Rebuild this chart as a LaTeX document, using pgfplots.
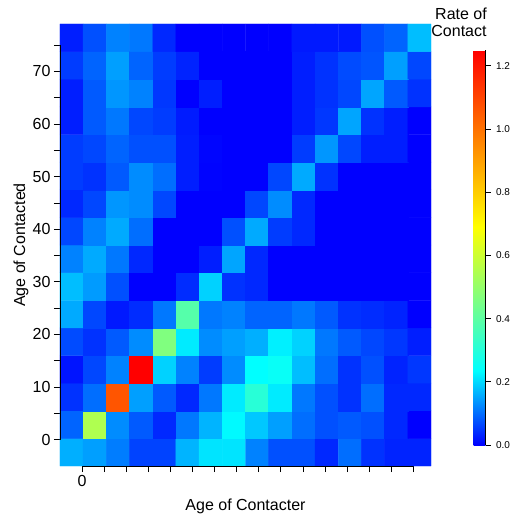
\documentclass[border=0pt]{standalone}
\usepackage{pgfplots}
\pgfplotsset{compat=1.18}
\usepackage{fontspec}
\setmainfont{Liberation Sans}

% blue -> cyan -> yellow -> red, stops
\pgfplotsset{colormap={contact}{rgb255(0cm)=(0,0,255) rgb255(2.35cm)=(0,255,255) rgb255(6.9cm)=(255,255,0) rgb255(12.5cm)=(255,0,0)}}

\begin{document}
\begin{tikzpicture}
\begin{axis}[
    scale only axis,
    width=371pt, height=442pt,
    xmin=-5, xmax=79, ymin=-5, ymax=79,
    axis line style={draw=none},
    tick pos=left,
    tick align=outside,
    major tick length=6pt,
    tick style={black, line width=0.8pt},
    xtick={0,5,...,75},
    xticklabels={0,,,,,,,,,,,,,,,},
    ytick={0,5,...,75},
    yticklabels={0,,10,,20,,30,,40,,50,,60,,70,},
    ticklabel style={font=\fontsize{16}{18}\selectfont},
    xlabel={Age of Contacter},
    ylabel={Age of Contacted},
    label style={font=\fontsize{16}{18}\selectfont},
    xlabel style={at={(axis description cs:0.5,-0.1018)}, anchor=base},
    ylabel style={at={(axis description cs:-0.0943,0.5)}, anchor=base},
    clip=false,
    colormap name=contact,
    point meta min=0, point meta max=1.25,
    colorbar,
    colorbar style={
        scale only axis,
        at={(parent axis.south east)}, anchor=south west,
        xshift=34pt, yshift=21pt,
        width=12pt, height=395pt,
        axis x line=none,
        axis y line*=right,
        ytick={0,0.2,0.4,0.6,0.8,1.0,1.2},
        tick align=outside,
        major tick length=5pt,
        tick style={black, line width=0.8pt},
        yticklabel style={font=\fontsize{10}{12}\selectfont, xshift=2pt,
            /pgf/number format/.cd, fixed, fixed zerofill, precision=1, assume math mode=true},
    },
]
\addplot[matrix plot*, mesh/cols=16, point meta=explicit] coordinates {
(-2.375,-2.375) [0.161] (2.875,-2.375) [0.147] (8.125,-2.375) [0.115] (13.375,-2.375) [0.062] (18.625,-2.375) [0.062] (23.875,-2.375) [0.166] (29.125,-2.375) [0.210] (34.375,-2.375) [0.210] (39.625,-2.375) [0.120] (44.875,-2.375) [0.074] (50.125,-2.375) [0.074] (55.375,-2.375) [0.037] (60.625,-2.375) [0.101] (65.875,-2.375) [0.046] (71.125,-2.375) [0.032] (76.375,-2.375) [0.032]

(-2.375,2.875) [0.092] (2.875,2.875) [0.547] (8.125,2.875) [0.129] (13.375,2.875) [0.083] (18.625,2.875) [0.037] (23.875,2.875) [0.111] (29.125,2.875) [0.166] (34.375,2.875) [0.230] (39.625,2.875) [0.184] (44.875,2.875) [0.147] (50.125,2.875) [0.101] (55.375,2.875) [0.074] (60.625,2.875) [0.083] (65.875,2.875) [0.074] (71.125,2.875) [0.037] (76.375,2.875) [0]

(-2.375,8.125) [0.046] (2.875,8.125) [0.101] (8.125,8.125) [1.063] (13.375,8.125) [0.147] (18.625,8.125) [0.083] (23.875,8.125) [0.037] (29.125,8.125) [0.111] (34.375,8.125) [0.217] (39.625,8.125) [0.306] (44.875,8.125) [0.217] (50.125,8.125) [0.111] (55.375,8.125) [0.074] (60.625,8.125) [0.046] (65.875,8.125) [0.101] (71.125,8.125) [0.037] (76.375,8.125) [0.037]

(-2.375,13.375) [0.018] (2.875,13.375) [0.065] (8.125,13.375) [0.120] (13.375,13.375) [1.250] (18.625,13.375) [0.194] (23.875,13.375) [0.120] (29.125,13.375) [0.055] (34.375,13.375) [0.129] (39.625,13.375) [0.235] (44.875,13.375) [0.250] (50.125,13.375) [0.175] (55.375,13.375) [0.101] (60.625,13.375) [0.046] (65.875,13.375) [0.074] (71.125,13.375) [0.032] (76.375,13.375) [0.051]

(-2.375,18.625) [0.069] (2.875,18.625) [0.046] (8.125,18.625) [0.083] (13.375,18.625) [0.129] (18.625,18.625) [0.463] (23.875,18.625) [0.217] (29.125,18.625) [0.129] (34.375,18.625) [0.147] (39.625,18.625) [0.161] (44.875,18.625) [0.221] (50.125,18.625) [0.194] (55.375,18.625) [0.111] (60.625,18.625) [0.083] (65.875,18.625) [0.065] (71.125,18.625) [0.051] (76.375,18.625) [0.028]

(-2.375,23.875) [0.157] (2.875,23.875) [0.065] (8.125,23.875) [0.023] (13.375,23.875) [0.041] (18.625,23.875) [0.111] (23.875,23.875) [0.387] (29.125,23.875) [0.111] (34.375,23.875) [0.120] (39.625,23.875) [0.092] (44.875,23.875) [0.092] (50.125,23.875) [0.111] (55.375,23.875) [0.083] (60.625,23.875) [0.046] (65.875,23.875) [0.041] (71.125,23.875) [0.032] (76.375,23.875) [0]

(-2.375,29.125) [0.175] (2.875,29.125) [0.143] (8.125,29.125) [0.074] (13.375,29.125) [0] (18.625,29.125) [0] (23.875,29.125) [0.041] (29.125,29.125) [0.194] (34.375,29.125) [0.046] (39.625,29.125) [0.037] (44.875,29.125) [0] (50.125,29.125) [0] (55.375,29.125) [0] (60.625,29.125) [0] (65.875,29.125) [0] (71.125,29.125) [0] (76.375,29.125) [0]

(-2.375,34.375) [0.120] (2.875,34.375) [0.157] (8.125,34.375) [0.111] (13.375,34.375) [0.037] (18.625,34.375) [0] (23.875,34.375) [0] (29.125,34.375) [0.028] (34.375,34.375) [0.152] (39.625,34.375) [0.037] (44.875,34.375) [0] (50.125,34.375) [0] (55.375,34.375) [0] (60.625,34.375) [0] (65.875,34.375) [0] (71.125,34.375) [0] (76.375,34.375) [0]

(-2.375,39.625) [0.065] (2.875,39.625) [0.120] (8.125,39.625) [0.157] (13.375,39.625) [0.101] (18.625,39.625) [0] (23.875,39.625) [0] (29.125,39.625) [0] (34.375,39.625) [0.074] (39.625,39.625) [0.157] (44.875,39.625) [0.055] (50.125,39.625) [0.037] (55.375,39.625) [0] (60.625,39.625) [0] (65.875,39.625) [0] (71.125,39.625) [0] (76.375,39.625) [0]

(-2.375,44.875) [0.037] (2.875,44.875) [0.065] (8.125,44.875) [0.138] (13.375,44.875) [0.129] (18.625,44.875) [0.065] (23.875,44.875) [0] (29.125,44.875) [0] (34.375,44.875) [0] (39.625,44.875) [0.065] (44.875,44.875) [0.129] (50.125,44.875) [0.037] (55.375,44.875) [0] (60.625,44.875) [0] (65.875,44.875) [0] (71.125,44.875) [0] (76.375,44.875) [0]

(-2.375,50.125) [0.055] (2.875,50.125) [0.046] (8.125,50.125) [0.083] (13.375,50.125) [0.129] (18.625,50.125) [0.101] (23.875,50.125) [0.028] (29.125,50.125) [0.003] (34.375,50.125) [0] (39.625,50.125) [0] (44.875,50.125) [0.065] (50.125,50.125) [0.157] (55.375,50.125) [0.046] (60.625,50.125) [0] (65.875,50.125) [0] (71.125,50.125) [0] (76.375,50.125) [0]

(-2.375,55.375) [0.055] (2.875,55.375) [0.065] (8.125,55.375) [0.092] (13.375,55.375) [0.074] (18.625,55.375) [0.074] (23.875,55.375) [0.028] (29.125,55.375) [0.005] (34.375,55.375) [0] (39.625,55.375) [0] (44.875,55.375) [0] (50.125,55.375) [0.055] (55.375,55.375) [0.138] (60.625,55.375) [0.065] (65.875,55.375) [0.028] (71.125,55.375) [0.028] (76.375,55.375) [0]

(-2.375,60.625) [0.028] (2.875,60.625) [0.083] (8.125,60.625) [0.111] (13.375,60.625) [0.065] (18.625,60.625) [0.055] (23.875,60.625) [0.025] (29.125,60.625) [0] (34.375,60.625) [0] (39.625,60.625) [0] (44.875,60.625) [0] (50.125,60.625) [0.028] (55.375,60.625) [0.051] (60.625,60.625) [0.152] (65.875,60.625) [0.046] (71.125,60.625) [0.028] (76.375,60.625) [0]

(-2.375,65.875) [0.028] (2.875,65.875) [0.083] (8.125,65.875) [0.138] (13.375,65.875) [0.120] (18.625,65.875) [0.051] (23.875,65.875) [0] (29.125,65.875) [0.028] (34.375,65.875) [0] (39.625,65.875) [0] (44.875,65.875) [0] (50.125,65.875) [0.028] (55.375,65.875) [0.046] (60.625,65.875) [0.065] (65.875,65.875) [0.152] (71.125,65.875) [0.083] (76.375,65.875) [0.046]

(-2.375,71.125) [0.055] (2.875,71.125) [0.092] (8.125,71.125) [0.147] (13.375,71.125) [0.092] (18.625,71.125) [0.055] (23.875,71.125) [0.032] (29.125,71.125) [0] (34.375,71.125) [0] (39.625,71.125) [0] (44.875,71.125) [0] (50.125,71.125) [0.028] (55.375,71.125) [0.046] (60.625,71.125) [0.069] (65.875,71.125) [0.078] (71.125,71.125) [0.147] (76.375,71.125) [0.065]

(-2.375,76.375) [0.028] (2.875,76.375) [0.074] (8.125,76.375) [0.120] (13.375,76.375) [0.111] (18.625,76.375) [0.037] (23.875,76.375) [0] (29.125,76.375) [0] (34.375,76.375) [0] (39.625,76.375) [0] (44.875,76.375) [0] (50.125,76.375) [0.023] (55.375,76.375) [0.023] (60.625,76.375) [0.023] (65.875,76.375) [0.074] (71.125,76.375) [0.092] (76.375,76.375) [0.175]
};
% R-style axis lines, running from the first tick to the last
\draw[black, line width=0.8pt] (axis cs:0,-5) -- (axis cs:75,-5);
\draw[black, line width=0.8pt] (axis cs:-5,0) -- (axis cs:-5,75);
\end{axis}
\node[anchor=base, font=\fontsize{16}{18}\selectfont] at (401pt,446.5pt) {Rate of};
\node[anchor=base, font=\fontsize{16}{18}\selectfont] at (399pt,429pt) {Contact};
\pgfresetboundingbox
\path (-60pt,-53pt) rectangle (458pt,466pt);
\end{tikzpicture}
\end{document}
